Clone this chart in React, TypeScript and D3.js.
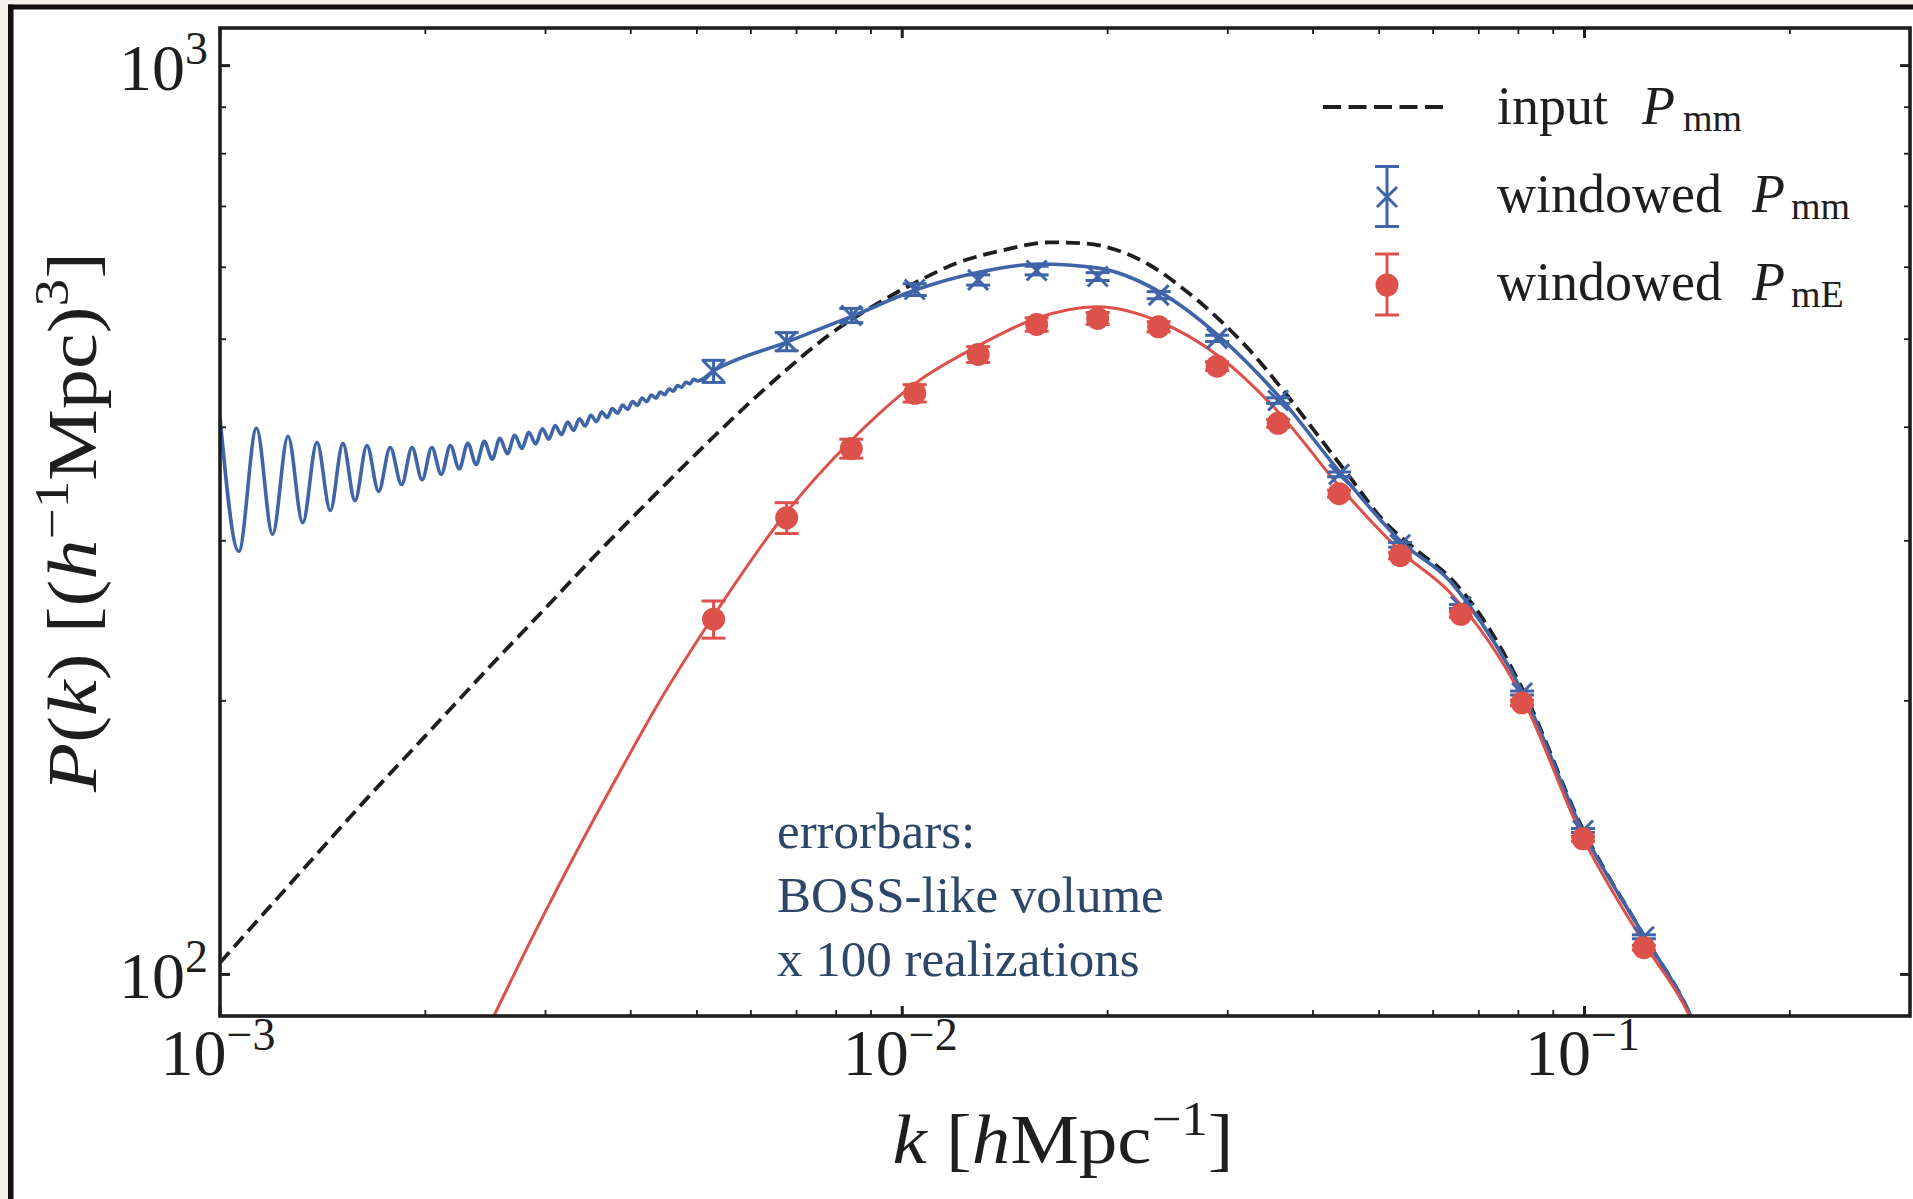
import React from 'react';
import * as d3 from 'd3';

const W = 1913;
const H = 1199;
const PLOT = { left: 220, right: 1910, top: 28, bottom: 1016 };

const X_DOMAIN: [number, number] = [1e-3, 0.3];
const Y_DOMAIN: [number, number] = [90, 1100];

const xMajorTicks = [1e-3, 1e-2, 1e-1];
const xTickExp = ['\u22123', '\u22122', '\u22121'];
const yMajorTicks = [100, 1000];
const yTickExp = ['2', '3'];

// binned measurements
const binK = [0.00529, 0.00677, 0.00842, 0.01043, 0.01292, 0.01574, 0.01934, 0.02376, 0.02894, 0.03556, 0.04369, 0.05368, 0.0659, 0.081, 0.0995, 0.1222];
const windowedMmP = [461, 497, 531, 567, 581, 595, 586, 559, 501, 428, 355, 297, 254, 204, 144, 110];
const windowedMmErr = [0.028, 0.023, 0.018, 0.015, 0.013, 0.011, 0.01, 0.009, 0.008, 0.007, 0.006, 0.006, 0.005, 0.005, 0.005, 0.005];
const windowedMeP = [246, 318, 379, 436, 481, 519, 527, 516, 467, 404, 338, 289, 249, 199, 141, 107];
const windowedMeErr = [0.047, 0.039, 0.024, 0.022, 0.02, 0.017, 0.015, 0.013, 0.011, 0.01, 0.009, 0.008, 0.007, 0.007, 0.006, 0.006];

// input P_mm (dashed)
const inputK = [0.001, 0.00133, 0.00164, 0.002, 0.00247, 0.003, 0.0035, 0.00427, 0.0053, 0.006, 0.00675, 0.0078, 0.009, 0.0105, 0.012, 0.014, 0.01645, 0.0184, 0.0206, 0.02305, 0.02578, 0.02886, 0.03229, 0.03614, 0.04045, 0.04525, 0.05064, 0.05668, 0.0633, 0.07, 0.0814, 0.099, 0.122, 0.1426, 0.16];
const inputP = [103, 131, 156, 183, 217, 253, 286, 333, 391, 427, 462, 505, 542, 578, 606, 626, 639, 637.6, 626.8, 603.4, 568.7, 529.2, 486.4, 439.5, 393.9, 352.9, 316.2, 293.1, 273.9, 250, 205, 145.5, 110.5, 90.5, 72];

// windowed P_mm curve: ringing extrema at low k, then smooth part
const blueRingK = [0.001, 0.0010655, 0.001131, 0.001194, 0.001258, 0.001322, 0.001387, 0.001451, 0.001514, 0.001577, 0.001642, 0.001708, 0.001776, 0.001846, 0.001912, 0.001978, 0.002044, 0.00211, 0.002176, 0.002242, 0.002308, 0.002374, 0.00244, 0.002506, 0.002572, 0.002638, 0.002704, 0.00277, 0.002836, 0.002902, 0.002968, 0.003034, 0.0031, 0.003166, 0.003232, 0.003298, 0.003364, 0.00343, 0.003496, 0.003562, 0.003628, 0.003694, 0.00376, 0.003826, 0.003892, 0.003958, 0.004024, 0.00409, 0.004156, 0.004222, 0.004288, 0.004354, 0.00442, 0.004486, 0.004552, 0.004618, 0.004684, 0.00475, 0.004816, 0.004882, 0.004948, 0.005014];
const blueRingP = [410, 292, 399, 305, 391, 314, 385, 324, 384, 332, 382, 340, 380, 346, 380, 350, 380, 355, 382, 360, 384, 364, 386, 369, 389, 374, 392, 379, 395, 383.5, 398.4, 388.1, 401.8, 392.5, 405.3, 396.9, 408.7, 401.4, 412.3, 405.8, 415.8, 410, 419.5, 414.4, 423.2, 418.5, 426.8, 422.8, 430.6, 426.9, 434, 430.6, 437.3, 434.4, 440.8, 438.4, 444.5, 442.6, 448.4, 446.5, 451.7, 449.8];
const blueSmoothK = [0.0053, 0.00675, 0.0085, 0.0105, 0.0129, 0.0159, 0.0193, 0.0238, 0.0292, 0.0357, 0.0438, 0.0542, 0.0633, 0.0669, 0.0814, 0.0989, 0.122, 0.1426, 0.16];
const blueSmoothP = [462, 496, 531, 567, 592, 605, 599, 564, 503, 432, 357, 298, 271.6, 258, 203.5, 145, 110.5, 90.5, 72];

// windowed P_mE curve
const redCurveK = [0.0023, 0.00252, 0.0029, 0.003374, 0.003922, 0.004413, 0.00527, 0.00675, 0.00843, 0.01045, 0.01299, 0.01573, 0.01929, 0.02383, 0.02917, 0.03574, 0.04379, 0.0542, 0.0633, 0.08137, 0.09894, 0.122, 0.1426, 0.16];
const redCurveP = [78, 90, 111.6, 139, 171, 200, 247, 321.7, 387.3, 447.1, 492.7, 527.2, 542.8, 522.6, 478.3, 414.3, 344.1, 290.6, 263.8, 200.5, 142.5, 108.5, 90, 72];

const annotationLines = ['errorbars:', 'BOSS-like volume', 'x 100 realizations'];

const BLUE = '#3f65a8';
const RED = '#dd514b';
const INK = '#1e1e1e';
const SERIF = "'Liberation Serif', 'DejaVu Serif', serif";

const x = d3.scaleLog().domain(X_DOMAIN).range([PLOT.left, PLOT.right]);
const y = d3.scaleLog().domain(Y_DOMAIN).range([PLOT.bottom, PLOT.top]);

const line = d3
  .line<[number, number]>()
  .x((d) => x(d[0]))
  .y((d) => y(d[1]))
  .curve(d3.curveMonotoneX);

const zip = (a: number[], b: number[]) => a.map((v, i) => [v, b[i]] as [number, number]);

function minorTicks(lo: number, hi: number) {
  const out: number[] = [];
  for (let e = Math.floor(Math.log10(lo)); e <= Math.ceil(Math.log10(hi)); e++) {
    for (let m = 2; m <= 9; m++) {
      const v = m * Math.pow(10, e);
      if (v > lo * 1.0001 && v < hi * 0.9999) out.push(v);
    }
  }
  return out;
}

export default function App() {
  const inputPath = line(zip(inputK, inputP)) || '';
  const bluePath = line(zip(blueRingK.concat(blueSmoothK), blueRingP.concat(blueSmoothP))) || '';
  const redPath = line(zip(redCurveK, redCurveP)) || '';

  const xMinor = minorTicks(X_DOMAIN[0], X_DOMAIN[1]);
  const yMinor = minorTicks(Y_DOMAIN[0], Y_DOMAIN[1]).filter((v) => !yMajorTicks.includes(v));

  const MAJ = 10;
  const MIN = 6;
  const cap = 12;
  const xs = 10;

  return (
    <svg
      width={W}
      height={H}
      viewBox={`0 0 ${W} ${H}`}
      style={{ position: 'absolute', left: 0, top: 0, display: 'block' }}
      fontFamily={SERIF}
    >
      <defs>
        <clipPath id="plotClip">
          <rect x={PLOT.left} y={PLOT.top} width={PLOT.right - PLOT.left} height={PLOT.bottom - PLOT.top} />
        </clipPath>
      </defs>
      {/* page background and frame */}
      <rect x={0} y={0} width={W} height={H} fill="#f4f1ea" />
      <rect x={13} y={9} width={W - 13} height={H - 9} fill="#ffffff" />
      <rect x={8} y={4.5} width={W - 8} height={5} fill="#111" />
      <rect x={8} y={4.5} width={5.5} height={H - 4.5} fill="#111" />

      {/* curves */}
      <g clipPath="url(#plotClip)" fill="none">
        <path d={inputPath} stroke={INK} strokeWidth={3.8} strokeDasharray="14 7" />
        <path d={bluePath} stroke={BLUE} strokeWidth={3.6} />
        <path d={redPath} stroke={RED} strokeWidth={3} />
      </g>

      {/* windowed P_mm points */}
      <g stroke={BLUE} strokeWidth={3} fill="none">
        {binK.map((k, i) => {
          const cx = x(k);
          const cy = y(windowedMmP[i]);
          const y1 = y(windowedMmP[i] * (1 + windowedMmErr[i]));
          const y2 = y(windowedMmP[i] * (1 - windowedMmErr[i]));
          return (
            <g key={`b${i}`}>
              <line x1={cx} x2={cx} y1={y1} y2={y2} />
              <line x1={cx - cap} x2={cx + cap} y1={y1} y2={y1} />
              <line x1={cx - cap} x2={cx + cap} y1={y2} y2={y2} />
              <line x1={cx - xs} x2={cx + xs} y1={cy - xs} y2={cy + xs} />
              <line x1={cx - xs} x2={cx + xs} y1={cy + xs} y2={cy - xs} />
            </g>
          );
        })}
      </g>

      {/* windowed P_mE points */}
      <g stroke={RED} strokeWidth={3} fill={RED}>
        {binK.map((k, i) => {
          const cx = x(k);
          const cy = y(windowedMeP[i]);
          const y1 = y(windowedMeP[i] * (1 + windowedMeErr[i]));
          const y2 = y(windowedMeP[i] * (1 - windowedMeErr[i]));
          return (
            <g key={`r${i}`}>
              <line x1={cx} x2={cx} y1={y1} y2={y2} />
              <line x1={cx - cap} x2={cx + cap} y1={y1} y2={y1} />
              <line x1={cx - cap} x2={cx + cap} y1={y2} y2={y2} />
              <circle cx={cx} cy={cy} r={11.5} stroke="none" />
            </g>
          );
        })}
      </g>

      {/* ticks */}
      <g stroke={INK}>
        {xMajorTicks.map((t) => (
          <g key={`xM${t}`} strokeWidth={3}>
            <line x1={x(t)} x2={x(t)} y1={PLOT.bottom} y2={PLOT.bottom - MAJ} />
            <line x1={x(t)} x2={x(t)} y1={PLOT.top} y2={PLOT.top + MAJ} />
          </g>
        ))}
        {xMinor.map((t) => (
          <g key={`xm${t}`} strokeWidth={1.8}>
            <line x1={x(t)} x2={x(t)} y1={PLOT.bottom} y2={PLOT.bottom - MIN} />
            <line x1={x(t)} x2={x(t)} y1={PLOT.top} y2={PLOT.top + MIN} />
          </g>
        ))}
        {yMajorTicks.map((t) => (
          <g key={`yM${t}`} strokeWidth={3}>
            <line x1={PLOT.left} x2={PLOT.left + MAJ} y1={y(t)} y2={y(t)} />
            <line x1={PLOT.right} x2={PLOT.right - MAJ} y1={y(t)} y2={y(t)} />
          </g>
        ))}
        {yMinor.map((t) => (
          <g key={`ym${t}`} strokeWidth={1.8}>
            <line x1={PLOT.left} x2={PLOT.left + MIN} y1={y(t)} y2={y(t)} />
            <line x1={PLOT.right} x2={PLOT.right - MIN} y1={y(t)} y2={y(t)} />
          </g>
        ))}
      </g>

      {/* axes frame */}
      <rect
        x={PLOT.left}
        y={PLOT.top}
        width={PLOT.right - PLOT.left}
        height={PLOT.bottom - PLOT.top}
        fill="none"
        stroke={INK}
        strokeWidth={3.6}
      />

      {/* tick labels */}
      <g fill={INK} fontSize={66}>
        {xMajorTicks.map((t, i) => (
          <text key={`xl${t}`} x={x(t) - 2} y={1075} textAnchor="middle">
            <tspan>10</tspan>
            <tspan dy={-25} fontSize={46}>{xTickExp[i]}</tspan>
          </text>
        ))}
        {yMajorTicks.map((t, i) => (
          <text key={`yl${t}`} x={208} y={y(t) + 24} textAnchor="end">
            <tspan>10</tspan>
            <tspan dy={-26} fontSize={46}>{yTickExp[i]}</tspan>
          </text>
        ))}
      </g>

      {/* axis labels */}
      <text x={1063} y={1163} textAnchor="middle" fontSize={70} fill={INK} textLength={341} lengthAdjust="spacingAndGlyphs">
        <tspan fontStyle="italic">k</tspan>
        <tspan> [</tspan>
        <tspan fontStyle="italic">h</tspan>
        <tspan>Mpc</tspan>
        <tspan dy={-28} fontSize={48}>{'\u22121'}</tspan>
        <tspan dy={28}>]</tspan>
      </text>
      <text
        transform="translate(96,522) rotate(-90)"
        textAnchor="middle"
        fontSize={70}
        fill={INK}
        textLength={540}
        lengthAdjust="spacingAndGlyphs"
      >
        <tspan fontStyle="italic">P</tspan>
        <tspan>(</tspan>
        <tspan fontStyle="italic">k</tspan>
        <tspan>) [(</tspan>
        <tspan fontStyle="italic">h</tspan>
        <tspan dy={-28} fontSize={48}>{'\u22121'}</tspan>
        <tspan dy={28}>Mpc)</tspan>
        <tspan dy={-28} fontSize={48}>3</tspan>
        <tspan dy={28}>]</tspan>
      </text>

      {/* legend */}
      <g>
        <line x1={1323} x2={1443} y1={107} y2={107} stroke={INK} strokeWidth={3.8} strokeDasharray="18 7.5" />
        <g stroke={BLUE} strokeWidth={3}>
          <line x1={1387} x2={1387} y1={166.5} y2={226.5} />
          <line x1={1387 - cap} x2={1387 + cap} y1={166.5} y2={166.5} />
          <line x1={1387 - cap} x2={1387 + cap} y1={226.5} y2={226.5} />
          <line x1={1387 - xs} x2={1387 + xs} y1={197 - xs} y2={197 + xs} />
          <line x1={1387 - xs} x2={1387 + xs} y1={197 + xs} y2={197 - xs} />
        </g>
        <g stroke={RED} strokeWidth={3} fill={RED}>
          <line x1={1387} x2={1387} y1={254} y2={315} />
          <line x1={1387 - cap} x2={1387 + cap} y1={254} y2={254} />
          <line x1={1387 - cap} x2={1387 + cap} y1={315} y2={315} />
          <circle cx={1387} cy={285} r={11.5} stroke="none" />
        </g>
        <g fill={INK} fontSize={54}>
          <text x={1497} y={124}>
            <tspan>input</tspan>
            <tspan x={1642} fontStyle="italic">P</tspan>
            <tspan x={1683} dy={7} fontSize={38}>mm</tspan>
          </text>
          <text x={1497} y={212}>
            <tspan>windowed</tspan>
            <tspan x={1752} fontStyle="italic">P</tspan>
            <tspan x={1791} dy={7} fontSize={38}>mm</tspan>
          </text>
          <text x={1497} y={300}>
            <tspan>windowed</tspan>
            <tspan x={1752} fontStyle="italic">P</tspan>
            <tspan x={1791} dy={7} fontSize={38}>mE</tspan>
          </text>
        </g>
      </g>

      {/* annotation */}
      <g fill="#2d4669" fontSize={51}>
        {annotationLines.map((s, i) => (
          <text key={s} x={777} y={848 + i * 64}>
            {s}
          </text>
        ))}
      </g>
    </svg>
  );
}
